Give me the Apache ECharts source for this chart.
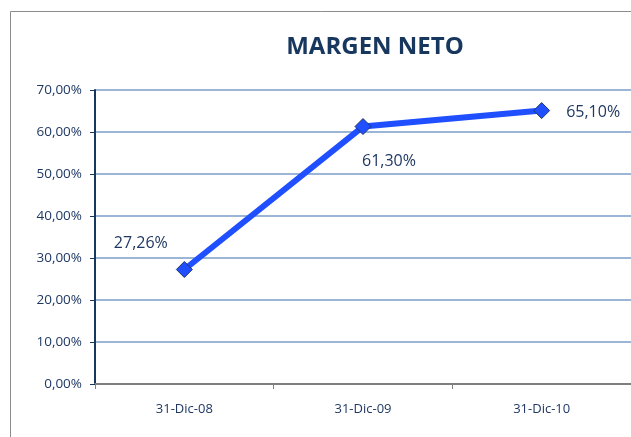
<!DOCTYPE html>
<html><head><meta charset="utf-8">
<script src="https://cdn.jsdelivr.net/npm/echarts@6/dist/echarts.min.js"></script>
<style>html,body{margin:0;padding:0;background:#fff}#c{width:631px;height:437px}</style>
</head><body><div id="c"></div>
<script>
const categories = ['31-Dic-08', '31-Dic-09', '31-Dic-10'];
const margenNeto = [27.26, 61.30, 65.10];
const labelPositions = ['left', 'bottom', 'right'];
const fmt = v => v.toFixed(2).replace('.', ',') + '%';
const chart = echarts.init(document.getElementById('c'));
const font = '"Open Sans", "Liberation Sans", sans-serif';
chart.setOption({
  animation: false,
  graphic: [{type:'rect', shape:{x:10.5, y:11.5, width:700, height:500}, style:{fill:'none', stroke:'#8c8c8c', lineWidth:1}}],
  title: {text:'MARGEN NETO', left:370, top:30, textAlign:'center',
    textStyle:{fontFamily:font, fontSize:24, fontWeight:'bold', color:'#17375E'}},
  grid: {left:95, right:-1, top:90, bottom:53},
  xAxis: {type:'category', data:categories, boundaryGap:true,
    axisLine:{lineStyle:{color:'#7f7f7f', width:2}},
    axisTick:{show:true, length:5, lineStyle:{color:'#7f7f7f'}},
    axisLabel:{fontFamily:font, fontSize:13, color:'#1F3864', margin:19}},
  yAxis: {type:'value', min:0, max:70, interval:10,
    axisLine:{show:true, lineStyle:{color:'#17375E', width:2}},
    axisTick:{show:true, length:5, lineStyle:{color:'#17375E'}},
    axisLabel:{fontFamily:font, fontSize:13.5, color:'#1F3864', margin:13, formatter:v => v.toFixed(2).replace('.', ',') + '%'},
    splitLine:{lineStyle:{color:'#7A9CC9', width:1.5}}},
  series: [{type:'line', data:margenNeto.map((v,i)=>({value:v, label:{position:labelPositions[i],
      offset: i===0?[2,-26]:(i===1?[26,8]:[6,2])}})),
    lineStyle:{color:'#1F4FFF', width:6},
    symbol:'diamond', symbolSize:16,
    itemStyle:{color:'#1F4FFF', borderColor:'#1F3864', borderWidth:1},
    label:{show:true, fontFamily:font, fontSize:16, color:'#1F3864', formatter:p=>fmt(p.value), distance:10}}]
});
</script></body></html>
